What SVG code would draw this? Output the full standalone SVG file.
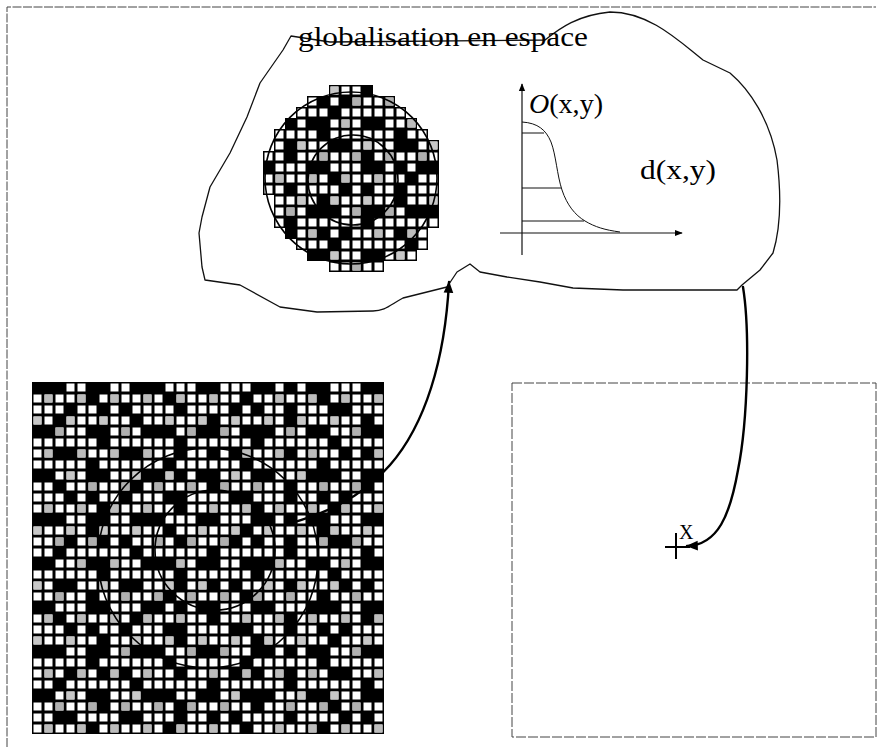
<svg xmlns="http://www.w3.org/2000/svg" width="879" height="751" viewBox="0 0 879 751">
<style>
.frame{fill:none;stroke:#444;stroke-width:1;stroke-dasharray:9 1.5}
.cloud{fill:none;stroke:#111;stroke-width:1.3;stroke-linejoin:round}
.ring{fill:none;stroke:#000;stroke-width:1.6}
.axis{fill:none;stroke:#111;stroke-width:1.2}
.thin{fill:none;stroke:#111;stroke-width:1}
.conn{fill:none;stroke:#000;stroke-width:2.4;stroke-linecap:round}
.serif{font-family:"Liberation Serif","Times New Roman",serif;fill:#000}
</style>
<defs>
<pattern id="cells" patternUnits="userSpaceOnUse" x="32" y="382" width="11" height="11">
<rect width="11" height="11" fill="#000"/><rect x="1.5" y="1.5" width="8" height="8" fill="#fff"/>
</pattern>
<pattern id="grayC" patternUnits="userSpaceOnUse" x="32" y="382" width="33" height="55">
<rect x="12.5" y="12.5" width="8" height="8" fill="#bdbdbd"/><rect x="1.5" y="34.5" width="8" height="8" fill="#c8c8c8"/><rect x="23.5" y="45.5" width="8" height="8" fill="#b0b0b0"/>
</pattern>
<pattern id="blkA" patternUnits="userSpaceOnUse" x="32" y="382" width="55" height="44">
<rect x="0" y="0" width="22" height="11" fill="#000"/><rect x="33" y="22" width="11" height="11" fill="#000"/>
</pattern>
<pattern id="blkB" patternUnits="userSpaceOnUse" x="32" y="382" width="77" height="33">
<rect x="22" y="0" width="11" height="11" fill="#000"/><rect x="55" y="11" width="11" height="11" fill="#000"/><rect x="66" y="22" width="11" height="11" fill="#000"/>
</pattern>
<clipPath id="disc">
<rect x="329" y="85" width="44" height="11"/>
<rect x="307" y="96" width="88" height="11"/>
<rect x="296" y="107" width="110" height="11"/>
<rect x="285" y="118" width="132" height="11"/>
<rect x="274" y="129" width="154" height="11"/>
<rect x="274" y="140" width="165" height="11"/>
<rect x="263" y="151" width="176" height="44"/>
<rect x="274" y="195" width="165" height="33"/>
<rect x="285" y="228" width="143" height="11"/>
<rect x="296" y="239" width="132" height="11"/>
<rect x="307" y="250" width="110" height="11"/>
<rect x="329" y="261" width="55" height="11"/>
</clipPath>
<marker id="ah" viewBox="0 0 10 10" refX="9" refY="5" markerWidth="12" markerHeight="12" markerUnits="userSpaceOnUse" orient="auto">
<path d="M0,1 L10,5 L0,9 z" fill="#000"/>
</marker>
<marker id="ahs" viewBox="0 0 10 10" refX="9" refY="5" markerWidth="8" markerHeight="8" markerUnits="userSpaceOnUse" orient="auto">
<path d="M0,1 L10,5 L0,9 z" fill="#000"/>
</marker>
</defs>

<rect width="879" height="751" fill="#fff"/>
<path class="frame" d="M7 747 V7 H876"/>

<g id="cloud">
<path class="cloud" d="M283 50 L291 36 L330 42 L545 40 C560 28,578 15,610 12 C650 12,680 42,703 60 L730 73 C750 90,770 120,777 160 C782 200,780 230,773 253 L760 270 L742 285 L737 290 L673 290 L623 290 L573 288 L540 282 L507 277 L480 272 L470 264 L457 272 L447 287 L403 298 C390 305,385 311,373 311 L317 312 L280 307 L240 285 L205 280 L202 267 L199 233 L202 217 L210 187 L230 153 L247 117 L260 83 Z"/>
<text class="serif" x="298" y="46" font-size="28" textLength="290" lengthAdjust="spacingAndGlyphs">globalisation en espace</text>
</g>

<g id="small-grid">
<g clip-path="url(#disc)">
<rect x="263" y="85" width="176" height="187" fill="url(#cells)"/>
<rect x="263" y="85" width="176" height="187" fill="url(#grayC)"/>
<rect x="263" y="85" width="176" height="187" fill="url(#blkA)"/>
<rect x="263" y="85" width="176" height="187" fill="url(#blkB)"/>
</g>
<circle class="ring" cx="351" cy="178" r="86"/>
<circle class="ring" cx="353" cy="180" r="45"/>
</g>

<g id="graph">
<path class="axis" d="M522 255 V84" marker-end="url(#ahs)"/>
<path class="axis" d="M500 233 H682" marker-end="url(#ahs)"/>
<path class="thin" d="M522 122 C538 123,546 130,551 142 C556 155,557 175,562 190 C567 205,575 215,585 221 C595 227,605 230,620 232"/>
<path class="thin" d="M522 133 H544 M522 188 H561 M522 221 H584"/>
<text class="serif" x="529" y="113" font-size="27" textLength="74" lengthAdjust="spacingAndGlyphs"><tspan font-style="italic">O</tspan>(x,y)</text>
<text class="serif" x="640" y="179" font-size="28" textLength="76" lengthAdjust="spacingAndGlyphs">d(x,y)</text>
</g>

<g id="big-grid">
<rect x="32" y="382" width="352" height="352" fill="url(#cells)"/>
<rect x="32" y="382" width="352" height="352" fill="url(#grayC)"/>
<rect x="32" y="382" width="352" height="352" fill="url(#blkA)"/>
<rect x="32" y="382" width="352" height="352" fill="url(#blkB)"/>
<circle class="ring" cx="208" cy="558" r="110"/>
<circle class="ring" cx="215" cy="550" r="60"/>
</g>

<g id="target-box">
<rect x="512" y="383" width="364" height="354" fill="none" stroke="#444" stroke-width="1" stroke-dasharray="10 2"/>
<path d="M665 547 H690 M676 533 V559" fill="none" stroke="#000" stroke-width="2"/>
<text class="serif" x="679" y="539" font-size="20">X</text>
</g>

<g id="connectors">
<path class="conn" d="M288 524 C320 515,360 500,390 465 C425 425,445 360,449 282" marker-end="url(#ah)"/>
<path class="conn" d="M743 287 C750 330,748 420,738 470 C730 515,718 545,687 546" marker-end="url(#ah)"/>
</g>
</svg>
